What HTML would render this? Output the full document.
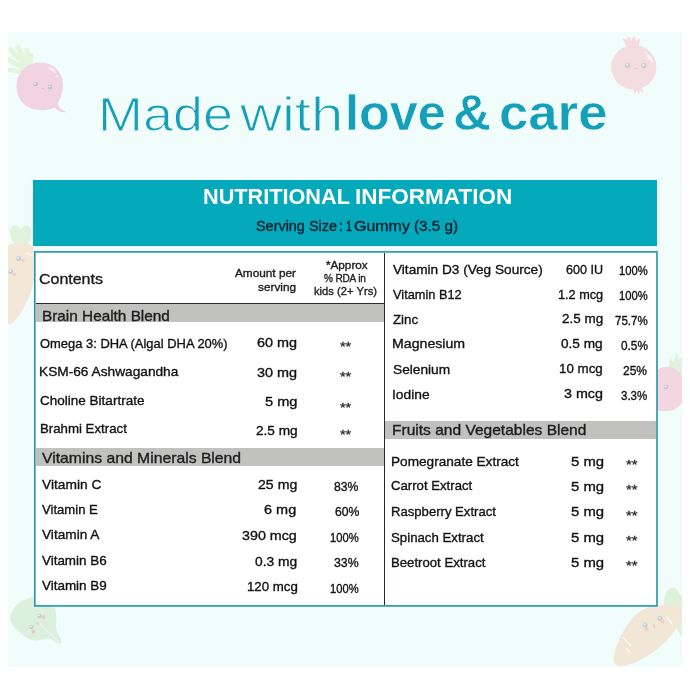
<!DOCTYPE html>
<html lang="en"><head><meta charset="utf-8"><title>Nutritional Information</title>
<style>
html,body{margin:0;padding:0;background:#ffffff;}
body{width:690px;height:700px;position:relative;overflow:hidden;font-family:"Liberation Sans", sans-serif;}
.bg{position:absolute;left:8px;top:32px;width:674px;height:635px;background:#f0fdfb;overflow:hidden;}
.deco{position:absolute;left:0;top:0;width:690px;height:700px;}
.hdr{position:absolute;left:33px;top:180px;width:624px;height:66px;background:#05a9bc;}
.tbl{position:absolute;left:35px;top:252px;width:622px;height:354px;background:#ffffff;}
.div{position:absolute;left:383.6px;top:253px;width:1.6px;height:352px;background:#1e2a30;}
.hline{position:absolute;left:36px;top:302.6px;width:348px;height:1.3px;background:#2a2a2a;}
.band{position:absolute;background:#c1c1c0;}
.txt{position:absolute;left:0;top:0;width:690px;height:700px;will-change:transform;}
.t{position:absolute;white-space:pre;display:block;transform-origin:0 50%;-webkit-text-stroke:0.35px currentColor;}
</style></head><body>
<div class="bg"></div>
<svg class="deco" width="690" height="700" viewBox="0 0 690 700">
<defs><clipPath id="bgclip"><rect x="8" y="32" width="674" height="635"/></clipPath></defs>
<g clip-path="url(#bgclip)">
<!-- beet, top-left -->
<g>
<g stroke="#e3f4df" stroke-linecap="round" fill="none">
<path d="M30 70 L11 50" stroke-width="5"/><path d="M30 69 L18 47.5" stroke-width="5"/><path d="M31 68 L26.5 50" stroke-width="5"/>
<path d="M29 71 L9 60" stroke-width="5"/><path d="M28 73 L9.5 70" stroke-width="4.5"/><path d="M31 67 L31.5 55" stroke-width="3.5"/>
</g>
<path d="M39 62.5 C52 61.5 63.5 71 63 86 C62.6 97 57 103 58 105 C59.5 108.5 63 110.5 66.5 112 C62.5 113 57 111 54.5 107.5 C50 110 45 110.5 39 110 C25 109 16 98 16.5 86 C17 72 27 63 39 62.5 Z" fill="#f2d4e0"/>
<path d="M48 66.8 C52 67.5 55 70 56.3 73.2 C53.5 72.2 50 70 48 66.8 Z" fill="#fdf4f7"/><path d="M56.2 74.2 C57.3 75.3 57.8 76.6 57.9 78 C56.9 77 56.3 75.6 56.2 74.2 Z" fill="#fdf4f7"/>
<circle cx="35.7" cy="84.3" r="2.3" fill="#bfc5c9"/><circle cx="50" cy="87" r="2.3" fill="#bfc5c9"/>
<circle cx="35.2" cy="83.6" r="0.9" fill="#f4f6f7"/><circle cx="49.5" cy="86.3" r="0.9" fill="#f4f6f7"/>
<path d="M41.3 88 Q42.7 90.3 44 88.4 Z" fill="#e8a9bd"/>
</g>
<!-- pomegranate, top-right -->
<g>
<path d="M627 47 L622 38 L627 40 L628.5 35.5 L631.5 40.5 L634 35 L636 41 L640.5 37.5 L638.5 47 Z" fill="#f4dde1"/>
<ellipse cx="633.8" cy="67.2" rx="22.6" ry="22.2" fill="#f4dde1"/>
<path d="M633 88 L634.5 94.5 L637 90 L639 95 L640.5 90.5 L643.5 93.5 L642 87 Z" fill="#f4dde1"/>
<path d="M646 53.5 C649.5 55 652.5 59 653 63 C650 61 647.5 57.5 646 53.5 Z" fill="#fdf5f6"/>
<circle cx="627.6" cy="65.2" r="2.7" fill="#cfcfd2"/><circle cx="643.9" cy="65.6" r="2.7" fill="#cfcfd2"/>
<circle cx="627.1" cy="64.5" r="1" fill="#f3f3f4"/><circle cx="643.4" cy="64.9" r="1" fill="#f3f3f4"/>
<path d="M634.3 68 Q635.8 70 637.3 68.2 Z" fill="#e9b7c0"/>
</g>
<!-- carrot, left edge -->
<g>
<path d="M17 246 C10 240 8 231 12 226.5 C15 224 19 226 20.5 230 C22 226 26 224.5 29 226.5 C33 229.5 32 238 27 246 Z" fill="#e1f2dc"/>
<path d="M4 248 C10 242 26 241 32 246 C36 250 36 266 34 280 C31 296 23 312 14 322 C11 325 6 324 4 320 Z" fill="#f3e7d8"/>
<circle cx="18.6" cy="258.7" r="2.4" fill="#c3cfd8"/><circle cx="10.8" cy="271.7" r="2.4" fill="#c3cfd8"/>
<circle cx="18.1" cy="258" r="0.9" fill="#f5f7f9"/><circle cx="10.3" cy="271" r="0.9" fill="#f5f7f9"/>
<circle cx="23" cy="260.5" r="1.8" fill="#f3c9cf" opacity="0.8"/><circle cx="14.5" cy="274.5" r="1.8" fill="#f3c9cf" opacity="0.8"/>
<path d="M26 252.5 L33 256" stroke="#fbf4ee" stroke-width="1.6" stroke-linecap="round" fill="none"/>
</g>
<!-- radish, right edge -->
<g>
<path d="M668 372 L670 357 L673.5 363 L676.5 352.5 L679 360 L683 356 L684 378 Z" fill="#e1f2dc"/>
<path d="M655 372 C660 365.5 670 365 677 370 C684 375 686 390 683 400 C680 409 670 412.5 661 411 C657 410.5 655 409 655 405 Z" fill="#f4d6e1"/>
<circle cx="666" cy="387" r="2.4" fill="#c9ccd2"/><circle cx="665.5" cy="386.3" r="0.9" fill="#f3f4f6"/>
</g>
<!-- leaf, bottom-left -->
<g>
<path d="M31 598 C40 595 52 601 55.5 611 C58 619 54.5 627 57.5 633 C59 636.5 61.5 639.5 61.5 642.5 C58.5 644.5 55 641.5 52 639.5 C46.5 636.5 40 642 32 640 C24 638.5 21 632 16 628.5 C10 624 9 617 12.5 611 C16 603.5 22.5 600 31 598 Z" fill="#dcf0de"/>
<path d="M40 624 L58.5 641.5" stroke="#e9f6ea" stroke-width="1.4" fill="none"/>
<circle cx="39.5" cy="616" r="2.2" fill="#c6cfd0"/><circle cx="31.5" cy="627" r="2.2" fill="#c6cfd0"/>
<circle cx="39" cy="615.3" r="0.9" fill="#f5f7f7"/><circle cx="31" cy="626.3" r="0.9" fill="#f5f7f7"/>
<circle cx="43.5" cy="617" r="2" fill="#f3c3c8" opacity="0.85"/><circle cx="33.5" cy="631.5" r="2" fill="#f3c3c8" opacity="0.85"/>
<circle cx="37.5" cy="623.5" r="1.2" fill="#f0bfc4" opacity="0.85"/>
</g>
<!-- carrot, bottom-right -->
<g>
<path d="M664.5 612 C663 602 664 592 670 588.5 C674 586.5 678.5 589 679 594 C682 594.5 684 598 683 603 L684 640 L672 622 Z" fill="#dff1da"/>
<path d="M657 605.5 C650 605.5 644 608 638 613 C628 621 620 636 616 648 C613.5 656 613 662 615.5 664.5 C619 667.5 628 665.5 636 662 C650 656 664 645 673 633 C680 624 683 614 681 609 C679 605.5 672 605 664 605.2 Z" fill="#f2e6d6"/>
<circle cx="660" cy="618.5" r="2.5" fill="#c9d1d8"/><circle cx="645" cy="625" r="2.5" fill="#c9d1d8"/>
<circle cx="659.5" cy="617.8" r="0.9" fill="#f5f7f9"/><circle cx="644.5" cy="624.3" r="0.9" fill="#f5f7f9"/>
<circle cx="662.5" cy="621.5" r="2" fill="#f4c9cd" opacity="0.85"/><circle cx="646.5" cy="629" r="2" fill="#f4c9cd" opacity="0.85"/>
<path d="M653.5 624.5 L654.5 627.5" stroke="#dcc6b8" stroke-width="1" stroke-linecap="round"/>
<path d="M667 617 L672.5 624.5" stroke="#fbf5ef" stroke-width="1.5" stroke-linecap="round" fill="none"/>
<path d="M623 637.5 L631 646" stroke="#fbf5ef" stroke-width="1.5" stroke-linecap="round" fill="none"/>
<path d="M626.5 648 L630.5 653" stroke="#fbf5ef" stroke-width="1.4" stroke-linecap="round" fill="none"/>
</g>
</g>
</svg>

<div class="hdr"></div>
<div class="tbl"></div>
<svg class="deco" width="690" height="700" viewBox="0 0 690 700"><rect x="34.8" y="251.9" width="622.2" height="354" fill="none" stroke="#2096a9" stroke-width="1.6"/></svg>
<div class="hline"></div>
<div class="band" style="left:36px;top:304px;width:348px;height:18.4px"></div>
<div class="band" style="left:36px;top:448px;width:348px;height:18.4px"></div>
<div class="band" style="left:385px;top:421px;width:271px;height:17.8px"></div>
<div class="div"></div>
<div class="txt">
<span class="t" id="t76" style="left:97.86px;top:82.77px;font-size:49px;line-height:63.7px;font-weight:400;color:#159fb8;letter-spacing:0.000px;transform:scaleX(1.1003);paint-order:fill stroke;-webkit-text-stroke:1.1px #f0fdfb;">Made</span>
<span class="t" id="t77" style="left:239.98px;top:82.77px;font-size:49px;line-height:63.7px;font-weight:400;color:#159fb8;letter-spacing:0.000px;transform:scaleX(1.1854);paint-order:fill stroke;-webkit-text-stroke:1.1px #f0fdfb;">with</span>
<span class="t" id="t78" style="left:344.65px;top:80.98px;font-size:50px;line-height:65.0px;font-weight:700;color:#159fb8;letter-spacing:0.000px;transform:scaleX(1.0073);-webkit-text-stroke:0.5px #f0fdfb;">love</span>
<span class="t" id="t79" style="left:453.34px;top:80.98px;font-size:50px;line-height:65.0px;font-weight:700;color:#159fb8;letter-spacing:0.000px;transform:scaleX(1.0513);-webkit-text-stroke:0.5px #f0fdfb;">&amp;</span>
<span class="t" id="t80" style="left:499.00px;top:80.98px;font-size:50px;line-height:65.0px;font-weight:700;color:#159fb8;letter-spacing:0.000px;transform:scaleX(1.0540);-webkit-text-stroke:0.5px #f0fdfb;">care</span>
<span class="t" id="t0" style="left:202.91px;top:181.88px;font-size:22.6px;line-height:29.38px;font-weight:700;color:#ffffff;letter-spacing:0.000px;transform:scaleX(0.9595);-webkit-text-stroke:0;">NUTRITIONAL</span>
<span class="t" id="t1" style="left:355.04px;top:181.88px;font-size:22.6px;line-height:29.38px;font-weight:700;color:#ffffff;letter-spacing:0.000px;transform:scaleX(0.9971);-webkit-text-stroke:0;">INFORMATION</span>
<span class="t" id="t2" style="left:256.37px;top:217.25px;font-size:14px;line-height:18.2px;font-weight:400;color:#0d2230;letter-spacing:0.000px;transform:scaleX(1.0298);">Serving Size</span>
<span class="t" id="t3" style="left:339.25px;top:217.25px;font-size:14px;line-height:18.2px;font-weight:400;color:#0d2230;letter-spacing:0.000px;transform:scaleX(0.8828);">:</span>
<span class="t" id="t4" style="left:345.64px;top:217.25px;font-size:14px;line-height:18.2px;font-weight:400;color:#0d2230;letter-spacing:0.000px;transform:scaleX(0.8000);">1</span>
<span class="t" id="t5" style="left:353.51px;top:217.25px;font-size:14px;line-height:18.2px;font-weight:400;color:#0d2230;letter-spacing:0.000px;transform:scaleX(1.1400);">Gummy</span>
<span class="t" id="t6" style="left:414.18px;top:217.25px;font-size:14px;line-height:18.2px;font-weight:400;color:#0d2230;letter-spacing:0.000px;transform:scaleX(1.0917);">(3.5 g)</span>
<span class="t" id="t7" style="left:39.10px;top:268.75px;font-size:15px;line-height:19.5px;font-weight:400;color:#1d1d1f;letter-spacing:0.000px;transform:scaleX(1.0640);">Contents</span>
<span class="t" id="t8" style="left:235.14px;top:265.74px;font-size:11.3px;line-height:14.69px;font-weight:400;color:#1d1d1f;letter-spacing:0.000px;transform:scaleX(1.0440);">Amount per</span>
<span class="t" id="t9" style="left:258.24px;top:279.74px;font-size:11.3px;line-height:14.69px;font-weight:400;color:#1d1d1f;letter-spacing:0.000px;transform:scaleX(1.0441);">serving</span>
<span class="t" id="t10" style="left:325.84px;top:258.14px;font-size:11.3px;line-height:14.69px;font-weight:400;color:#1d1d1f;letter-spacing:0.000px;transform:scaleX(1.0362);">*Approx</span>
<span class="t" id="t11" style="left:324.36px;top:270.84px;font-size:11.3px;line-height:14.69px;font-weight:400;color:#1d1d1f;letter-spacing:-0.204px;transform:scaleX(0.8910);">% RDA in</span>
<span class="t" id="t12" style="left:314.41px;top:283.64px;font-size:11.3px;line-height:14.69px;font-weight:400;color:#1d1d1f;letter-spacing:0.000px;transform:scaleX(0.9915);">kids (2+ Yrs)</span>
<span class="t" id="t13" style="left:41.62px;top:307.15px;font-size:14.6px;line-height:18.98px;font-weight:400;color:#1d1d1f;letter-spacing:0.000px;transform:scaleX(1.0507);">Brain Health Blend</span>
<span class="t" id="t14" style="left:42.46px;top:448.75px;font-size:14.6px;line-height:18.98px;font-weight:400;color:#1d1d1f;letter-spacing:0.000px;transform:scaleX(1.0782);">Vitamins and Minerals Blend</span>
<span class="t" id="t15" style="left:391.80px;top:420.95px;font-size:14.6px;line-height:18.98px;font-weight:400;color:#1d1d1f;letter-spacing:0.000px;transform:scaleX(1.0649);">Fruits and Vegetables Blend</span>
<span class="t" id="t16" style="left:40.33px;top:335.35px;font-size:13.5px;line-height:17.55px;font-weight:400;color:#121212;letter-spacing:0.000px;transform:scaleX(0.9579);">Omega 3: DHA (Algal DHA 20%)</span>
<span class="t" id="t17" style="left:39.42px;top:362.95px;font-size:13.5px;line-height:17.55px;font-weight:400;color:#121212;letter-spacing:0.000px;transform:scaleX(1.0147);">KSM-66 Ashwagandha</span>
<span class="t" id="t18" style="left:40.04px;top:391.95px;font-size:13.5px;line-height:17.55px;font-weight:400;color:#121212;letter-spacing:0.000px;transform:scaleX(1.0012);">Choline Bitartrate</span>
<span class="t" id="t19" style="left:39.59px;top:420.35px;font-size:13.5px;line-height:17.55px;font-weight:400;color:#121212;letter-spacing:0.000px;transform:scaleX(0.9809);">Brahmi Extract</span>
<span class="t" id="t20" style="left:41.63px;top:475.55px;font-size:13.5px;line-height:17.55px;font-weight:400;color:#121212;letter-spacing:0.000px;transform:scaleX(1.0181);">Vitamin C</span>
<span class="t" id="t21" style="left:41.68px;top:500.85px;font-size:13.5px;line-height:17.55px;font-weight:400;color:#121212;letter-spacing:0.000px;transform:scaleX(0.9698);">Vitamin E</span>
<span class="t" id="t22" style="left:41.63px;top:526.05px;font-size:13.5px;line-height:17.55px;font-weight:400;color:#121212;letter-spacing:0.000px;transform:scaleX(1.0125);">Vitamin A</span>
<span class="t" id="t23" style="left:41.66px;top:551.55px;font-size:13.5px;line-height:17.55px;font-weight:400;color:#121212;letter-spacing:0.000px;transform:scaleX(0.9937);">Vitamin B6</span>
<span class="t" id="t24" style="left:41.66px;top:577.05px;font-size:13.5px;line-height:17.55px;font-weight:400;color:#121212;letter-spacing:0.000px;transform:scaleX(0.9943);">Vitamin B9</span>
<span class="t" id="t25" style="left:257.18px;top:334.45px;font-size:13.2px;line-height:17.16px;font-weight:400;color:#121212;letter-spacing:0.000px;transform:scaleX(1.0923);">60 mg</span>
<span class="t" id="t26" style="left:257.19px;top:364.35px;font-size:13.2px;line-height:17.16px;font-weight:400;color:#121212;letter-spacing:0.000px;transform:scaleX(1.0935);">30 mg</span>
<span class="t" id="t27" style="left:264.77px;top:393.35px;font-size:13.2px;line-height:17.16px;font-weight:400;color:#121212;letter-spacing:0.000px;transform:scaleX(1.1074);">5 mg</span>
<span class="t" id="t28" style="left:255.76px;top:421.85px;font-size:13.2px;line-height:17.16px;font-weight:400;color:#121212;letter-spacing:0.000px;transform:scaleX(1.0329);">2.5 mg</span>
<span class="t" id="t29" style="left:257.71px;top:476.25px;font-size:13.2px;line-height:17.16px;font-weight:400;color:#121212;letter-spacing:0.000px;transform:scaleX(1.0709);">25 mg</span>
<span class="t" id="t30" style="left:264.40px;top:501.25px;font-size:13.2px;line-height:17.16px;font-weight:400;color:#121212;letter-spacing:0.000px;transform:scaleX(1.0985);">6 mg</span>
<span class="t" id="t31" style="left:242.38px;top:527.25px;font-size:13.2px;line-height:17.16px;font-weight:400;color:#121212;letter-spacing:0.000px;transform:scaleX(1.0828);">390 mcg</span>
<span class="t" id="t32" style="left:254.61px;top:552.85px;font-size:13.2px;line-height:17.16px;font-weight:400;color:#121212;letter-spacing:0.000px;transform:scaleX(1.0467);">0.3 mg</span>
<span class="t" id="t33" style="left:246.70px;top:578.35px;font-size:13.2px;line-height:17.16px;font-weight:400;color:#121212;letter-spacing:0.000px;transform:scaleX(1.0055);">120 mcg</span>
<span class="t" id="t34" style="left:334.23px;top:478.94px;font-size:12.4px;line-height:16.12px;font-weight:400;color:#121212;letter-spacing:0.000px;transform:scaleX(0.9844);">83%</span>
<span class="t" id="t35" style="left:334.84px;top:504.04px;font-size:12.4px;line-height:16.12px;font-weight:400;color:#121212;letter-spacing:0.000px;transform:scaleX(0.9847);">60%</span>
<span class="t" id="t36" style="left:330.10px;top:530.04px;font-size:12.4px;line-height:16.12px;font-weight:400;color:#121212;letter-spacing:0.000px;transform:scaleX(0.9033);">100%</span>
<span class="t" id="t37" style="left:334.17px;top:555.44px;font-size:12.4px;line-height:16.12px;font-weight:400;color:#121212;letter-spacing:0.000px;transform:scaleX(0.9910);">33%</span>
<span class="t" id="t38" style="left:330.10px;top:581.04px;font-size:12.4px;line-height:16.12px;font-weight:400;color:#121212;letter-spacing:0.000px;transform:scaleX(0.9033);">100%</span>
<span class="t" id="t39" style="left:392.64px;top:260.75px;font-size:13.5px;line-height:17.55px;font-weight:400;color:#121212;letter-spacing:0.000px;transform:scaleX(1.0092);">Vitamin D3 (Veg Source)</span>
<span class="t" id="t40" style="left:392.71px;top:286.05px;font-size:13.5px;line-height:17.55px;font-weight:400;color:#121212;letter-spacing:0.000px;transform:scaleX(0.9465);">Vitamin B12</span>
<span class="t" id="t41" style="left:392.78px;top:311.05px;font-size:13.5px;line-height:17.55px;font-weight:400;color:#121212;letter-spacing:0.000px;transform:scaleX(0.9800);">Zinc</span>
<span class="t" id="t42" style="left:392.30px;top:335.05px;font-size:13.5px;line-height:17.55px;font-weight:400;color:#121212;letter-spacing:0.000px;transform:scaleX(1.0483);">Magnesium</span>
<span class="t" id="t43" style="left:392.71px;top:360.65px;font-size:13.5px;line-height:17.55px;font-weight:400;color:#121212;letter-spacing:0.000px;transform:scaleX(1.0146);">Selenium</span>
<span class="t" id="t44" style="left:391.75px;top:385.95px;font-size:13.5px;line-height:17.55px;font-weight:400;color:#121212;letter-spacing:0.000px;transform:scaleX(1.0228);">Iodine</span>
<span class="t" id="t45" style="left:391.32px;top:452.55px;font-size:13.5px;line-height:17.55px;font-weight:400;color:#121212;letter-spacing:0.000px;transform:scaleX(1.0085);">Pomegranate Extract</span>
<span class="t" id="t46" style="left:391.37px;top:477.35px;font-size:13.5px;line-height:17.55px;font-weight:400;color:#121212;letter-spacing:0.000px;transform:scaleX(0.9751);">Carrot Extract</span>
<span class="t" id="t47" style="left:390.61px;top:502.55px;font-size:13.5px;line-height:17.55px;font-weight:400;color:#121212;letter-spacing:0.000px;transform:scaleX(0.9711);">Raspberry Extract</span>
<span class="t" id="t48" style="left:391.02px;top:528.55px;font-size:13.5px;line-height:17.55px;font-weight:400;color:#121212;letter-spacing:0.000px;transform:scaleX(0.9803);">Spinach Extract</span>
<span class="t" id="t49" style="left:390.59px;top:553.75px;font-size:13.5px;line-height:17.55px;font-weight:400;color:#121212;letter-spacing:0.000px;transform:scaleX(0.9752);">Beetroot Extract</span>
<span class="t" id="t50" style="left:565.70px;top:261.05px;font-size:13.2px;line-height:17.16px;font-weight:400;color:#121212;letter-spacing:0.000px;transform:scaleX(0.9520);">600 IU</span>
<span class="t" id="t51" style="left:557.56px;top:285.75px;font-size:13.2px;line-height:17.16px;font-weight:400;color:#121212;letter-spacing:0.000px;transform:scaleX(0.9628);">1.2 mcg</span>
<span class="t" id="t52" style="left:561.75px;top:310.15px;font-size:13.2px;line-height:17.16px;font-weight:400;color:#121212;letter-spacing:0.000px;transform:scaleX(1.0208);">2.5 mg</span>
<span class="t" id="t53" style="left:561.29px;top:334.85px;font-size:13.2px;line-height:17.16px;font-weight:400;color:#121212;letter-spacing:0.000px;transform:scaleX(1.0339);">0.5 mg</span>
<span class="t" id="t54" style="left:558.91px;top:359.95px;font-size:13.2px;line-height:17.16px;font-weight:400;color:#121212;letter-spacing:0.000px;transform:scaleX(1.0108);">10 mcg</span>
<span class="t" id="t55" style="left:564.26px;top:384.65px;font-size:13.2px;line-height:17.16px;font-weight:400;color:#121212;letter-spacing:0.000px;transform:scaleX(1.0851);">3 mcg</span>
<span class="t" id="t56" style="left:570.58px;top:452.85px;font-size:13.2px;line-height:17.16px;font-weight:400;color:#121212;letter-spacing:0.000px;transform:scaleX(1.1274);">5 mg</span>
<span class="t" id="t57" style="left:570.58px;top:477.65px;font-size:13.2px;line-height:17.16px;font-weight:400;color:#121212;letter-spacing:0.000px;transform:scaleX(1.1274);">5 mg</span>
<span class="t" id="t58" style="left:570.58px;top:502.85px;font-size:13.2px;line-height:17.16px;font-weight:400;color:#121212;letter-spacing:0.000px;transform:scaleX(1.1274);">5 mg</span>
<span class="t" id="t59" style="left:570.58px;top:528.85px;font-size:13.2px;line-height:17.16px;font-weight:400;color:#121212;letter-spacing:0.000px;transform:scaleX(1.1274);">5 mg</span>
<span class="t" id="t60" style="left:570.58px;top:554.05px;font-size:13.2px;line-height:17.16px;font-weight:400;color:#121212;letter-spacing:0.000px;transform:scaleX(1.1274);">5 mg</span>
<span class="t" id="t61" style="left:619.06px;top:263.44px;font-size:12.4px;line-height:16.12px;font-weight:400;color:#121212;letter-spacing:0.000px;transform:scaleX(0.9039);">100%</span>
<span class="t" id="t62" style="left:619.06px;top:288.44px;font-size:12.4px;line-height:16.12px;font-weight:400;color:#121212;letter-spacing:0.000px;transform:scaleX(0.9039);">100%</span>
<span class="t" id="t63" style="left:615.35px;top:313.24px;font-size:12.4px;line-height:16.12px;font-weight:400;color:#121212;letter-spacing:0.000px;transform:scaleX(0.9309);">75.7%</span>
<span class="t" id="t64" style="left:620.79px;top:337.54px;font-size:12.4px;line-height:16.12px;font-weight:400;color:#121212;letter-spacing:0.000px;transform:scaleX(0.9530);">0.5%</span>
<span class="t" id="t65" style="left:623.38px;top:362.54px;font-size:12.4px;line-height:16.12px;font-weight:400;color:#121212;letter-spacing:0.000px;transform:scaleX(0.9685);">25%</span>
<span class="t" id="t66" style="left:621.49px;top:387.94px;font-size:12.4px;line-height:16.12px;font-weight:400;color:#121212;letter-spacing:0.000px;transform:scaleX(0.9268);">3.3%</span>
<span class="t" id="t67" style="left:340.34px;top:338.35px;font-size:13.5px;line-height:17.55px;font-weight:400;color:#262626;letter-spacing:0.000px;transform:scaleX(1.0673);-webkit-text-stroke:0.3px currentColor;">**</span>
<span class="t" id="t68" style="left:340.34px;top:367.95px;font-size:13.5px;line-height:17.55px;font-weight:400;color:#262626;letter-spacing:0.000px;transform:scaleX(1.0673);-webkit-text-stroke:0.3px currentColor;">**</span>
<span class="t" id="t69" style="left:340.34px;top:398.55px;font-size:13.5px;line-height:17.55px;font-weight:400;color:#262626;letter-spacing:0.000px;transform:scaleX(1.0673);-webkit-text-stroke:0.3px currentColor;">**</span>
<span class="t" id="t70" style="left:340.34px;top:425.75px;font-size:13.5px;line-height:17.55px;font-weight:400;color:#262626;letter-spacing:0.000px;transform:scaleX(1.0673);-webkit-text-stroke:0.3px currentColor;">**</span>
<span class="t" id="t71" style="left:626.21px;top:456.45px;font-size:13.5px;line-height:17.55px;font-weight:400;color:#262626;letter-spacing:0.000px;transform:scaleX(1.0928);-webkit-text-stroke:0.3px currentColor;">**</span>
<span class="t" id="t72" style="left:626.21px;top:481.15px;font-size:13.5px;line-height:17.55px;font-weight:400;color:#262626;letter-spacing:0.000px;transform:scaleX(1.0928);-webkit-text-stroke:0.3px currentColor;">**</span>
<span class="t" id="t73" style="left:626.21px;top:506.55px;font-size:13.5px;line-height:17.55px;font-weight:400;color:#262626;letter-spacing:0.000px;transform:scaleX(1.0928);-webkit-text-stroke:0.3px currentColor;">**</span>
<span class="t" id="t74" style="left:626.21px;top:531.75px;font-size:13.5px;line-height:17.55px;font-weight:400;color:#262626;letter-spacing:0.000px;transform:scaleX(1.0928);-webkit-text-stroke:0.3px currentColor;">**</span>
<span class="t" id="t75" style="left:626.21px;top:557.25px;font-size:13.5px;line-height:17.55px;font-weight:400;color:#262626;letter-spacing:0.000px;transform:scaleX(1.0928);-webkit-text-stroke:0.3px currentColor;">**</span>
</div>
</body></html>
